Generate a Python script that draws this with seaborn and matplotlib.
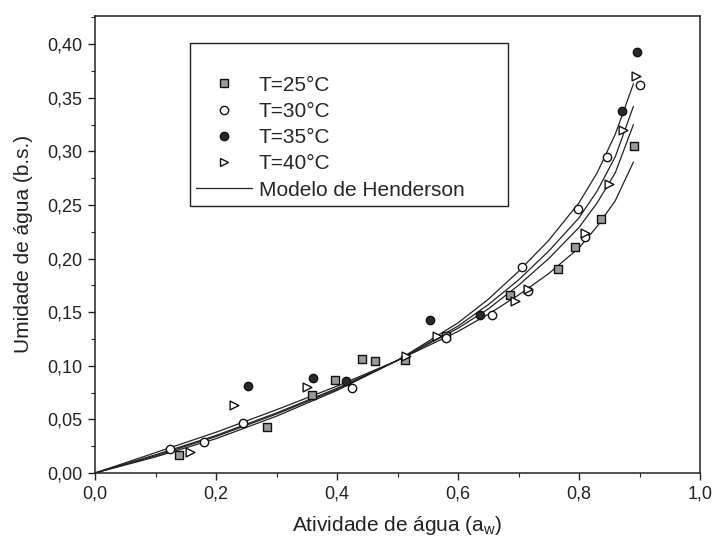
import matplotlib
matplotlib.use("Agg")
import matplotlib.pyplot as plt
import seaborn as sns
import pandas as pd
from matplotlib.lines import Line2D
from matplotlib.ticker import MultipleLocator, FuncFormatter

# ---- data ----
t25_aw = [0.139, 0.285, 0.358, 0.397, 0.441, 0.463, 0.512, 0.580, 0.686, 0.766, 0.793, 0.837, 0.891]
t25_x  = [0.017, 0.043, 0.073, 0.087, 0.106, 0.104, 0.105, 0.128, 0.166, 0.190, 0.211, 0.237, 0.305]

t30_aw = [0.124, 0.180, 0.244, 0.424, 0.580, 0.656, 0.705, 0.716, 0.810, 0.799, 0.846, 0.901]
t30_x  = [0.022, 0.029, 0.047, 0.079, 0.126, 0.147, 0.192, 0.170, 0.220, 0.246, 0.295, 0.362]

t35_aw = [0.253, 0.361, 0.415, 0.553, 0.636, 0.871, 0.896]
t35_x  = [0.081, 0.089, 0.086, 0.143, 0.147, 0.338, 0.393]

t40_aw = [0.157, 0.229, 0.350, 0.514, 0.565, 0.694, 0.716, 0.810, 0.849, 0.873, 0.895]
t40_x  = [0.020, 0.063, 0.080, 0.109, 0.128, 0.160, 0.172, 0.224, 0.270, 0.320, 0.370]

# Henderson model curves
curve_aw = [0.0, 0.1, 0.2, 0.3, 0.4, 0.5, 0.6, 0.65, 0.7, 0.75, 0.8, 0.83, 0.86, 0.89]
curve1_x = [0.0, 0.019, 0.038, 0.059, 0.081, 0.105, 0.132, 0.148, 0.166, 0.186, 0.210, 0.230, 0.254, 0.290]
curve2_x = [0.0, 0.017, 0.035, 0.056, 0.079, 0.105, 0.135, 0.153, 0.175, 0.200, 0.229, 0.252, 0.280, 0.325]
curve3_x = [0.0, 0.016, 0.034, 0.055, 0.078, 0.105, 0.137, 0.157, 0.180, 0.207, 0.238, 0.263, 0.295, 0.342]
curve4_x = [0.0, 0.015, 0.032, 0.053, 0.077, 0.105, 0.140, 0.162, 0.188, 0.217, 0.252, 0.280, 0.316, 0.363]

labels = ["T=25°C", "T=30°C", "T=35°C", "T=40°C"]
model_label = "Modelo de Henderson"
x_ticks = [0.0, 0.2, 0.4, 0.6, 0.8, 1.0]
y_ticks = [0.00, 0.05, 0.10, 0.15, 0.20, 0.25, 0.30, 0.35, 0.40]

# ---- styling ----
sns.set_theme(style="ticks")
plt.rcParams["font.family"] = ["Liberation Sans", "DejaVu Sans"]
plt.rcParams["mathtext.fontset"] = "custom"
plt.rcParams["mathtext.rm"] = "Liberation Sans"

fig = plt.figure(figsize=(7.2, 5.42), dpi=100)
ax = fig.add_axes([95/720, 1-473/542, 605/720, (473-15.6)/542])

curve_rows = []
for name, vals in [("c1", curve1_x), ("c2", curve2_x), ("c3", curve3_x), ("c4", curve4_x)]:
    for a, v in zip(curve_aw, vals):
        curve_rows.append({"aw": a, "X": v, "curve": name})
curve_df = pd.DataFrame(curve_rows)
sns.lineplot(data=curve_df, x="aw", y="X", units="curve", estimator=None,
             color="#222222", linewidth=0.9, ax=ax, legend=False, sort=True)

styles = [
    (t25_aw, t25_x, "s", "#9a9a9a", 30),
    (t30_aw, t30_x, "o", "white", 36),
    (t35_aw, t35_x, "o", "#2a2a2a", 36),
    (t40_aw, t40_x, ">", "white", 40),
]
handles = []
for (xa, ya, mk, fc, s), lab in zip(styles, labels):
    df = pd.DataFrame({"aw": xa, "X": ya})
    sns.scatterplot(data=df, x="aw", y="X", marker=mk, s=s, color=fc,
                    edgecolor="#111111", linewidth=1.0, ax=ax, legend=False, zorder=3)
    handles.append(Line2D([], [], linestyle="none", marker=mk, markersize=6,
                          markerfacecolor=fc, markeredgecolor="#111111",
                          markeredgewidth=1.0, label=lab))
handles.append(Line2D([], [], color="#222222", linewidth=0.9, label=model_label))

ax.set_xlim(0, 1.0)
ax.set_ylim(0, 0.4266)
ax.set_xticks(x_ticks)
ax.set_yticks(y_ticks)
ax.xaxis.set_minor_locator(MultipleLocator(0.1))
ax.yaxis.set_minor_locator(MultipleLocator(0.025))
ax.xaxis.set_major_formatter(FuncFormatter(lambda v, p: f"{v:.1f}".replace(".", ",")))
ax.yaxis.set_major_formatter(FuncFormatter(lambda v, p: f"{v:.2f}".replace(".", ",")))
ax.tick_params(axis="both", which="major", direction="out", length=5, width=1,
               labelsize=13, colors="#222222", pad=4)
ax.tick_params(axis="both", which="minor", direction="out", length=3, width=0.8, colors="#222222")
for sp in ax.spines.values():
    sp.set_color("#222222")
    sp.set_linewidth(1.1)

ax.set_xlabel(r"Atividade de água (a$_{\mathregular{w}}$)", fontsize=15, color="#222222", labelpad=8)
ax.set_ylabel("Umidade de água (b.s.)", fontsize=15, color="#222222", labelpad=10)

leg = ax.legend(handles=handles, loc="upper left",
                bbox_to_anchor=(0.157, 0.603, 0.526, 0.337), mode="expand",
                borderaxespad=0, fontsize=15, frameon=True, fancybox=False,
                edgecolor="#222222", framealpha=1, handlelength=2.7, handletextpad=0.3,
                labelspacing=0.35, borderpad=0.3, title=" ", title_fontsize=15)
leg.get_frame().set_linewidth(1.0)

fig.savefig("out.png", dpi=100, facecolor="white")
